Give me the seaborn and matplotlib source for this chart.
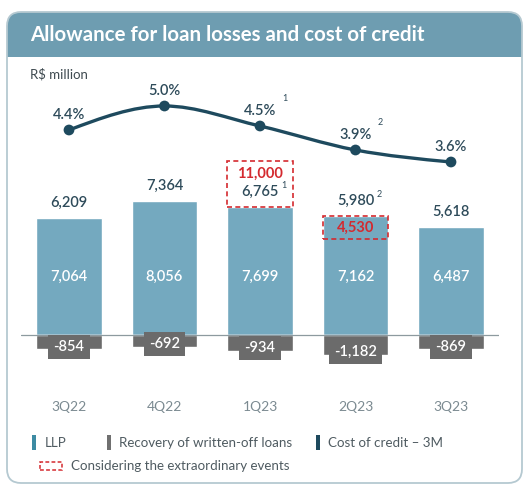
import numpy as np
import pandas as pd
import seaborn as sns
import matplotlib.pyplot as plt
from matplotlib.patches import FancyBboxPatch, Rectangle, PathPatch
from matplotlib.path import Path
from matplotlib.transforms import IdentityTransform

# ---------------- data ----------------
quarters = ["3Q22", "4Q22", "1Q23", "2Q23", "3Q23"]
llp = [7064, 8056, 7699, 7162, 6487]
recovery = [-854, -692, -934, -1182, -869]
net_llp = [6209, 7364, 6765, 5980, 5618]
cost_of_credit = [4.4, 5.0, 4.5, 3.9, 3.6]
net_notes = ["", "", "1", "2", ""]
cost_notes = ["", "", "1", "2", ""]
extra_quarters = ["1Q23", "2Q23"]
extra_values = [11000, 4530]

df = pd.DataFrame({"quarter": quarters, "llp": llp, "recovery": recovery,
                   "net": net_llp, "cost": cost_of_credit})
df["pos"] = np.arange(len(df))

# ---------------- style ----------------
sns.set_theme(style="white")
plt.rcParams["font.family"] = ["Lato", "DejaVu Sans"]

W, H = 530, 488
fig = plt.figure(figsize=(W / 100, H / 100), dpi=100)
fig.patch.set_facecolor("white")

C_LLP = "#74a9bf"
C_REC = "#6b6b6b"
C_LINE = "#1e4a5e"
C_TXT = "#2e4b5a"
C_RED = "#d42a2f"
C_HEAD = "#6e9db1"
C_BORDER = "#b5c9d1"
NUMW = "semibold"

def fx(x):
    return x / W

def fy(y):
    return 1 - y / H

idt = IdentityTransform()
# card background and header (pixel coordinates, origin bottom-left)
header = FancyBboxPatch((7, H - 57), 515, 45, boxstyle="round,pad=0,rounding_size=14",
                        transform=idt, fc=C_HEAD, ec="none", zorder=0)
fig.patches.append(header)
fig.patches.append(Rectangle((7, H - 57), 515, 20, transform=idt, fc=C_HEAD, ec="none", zorder=0))
card = FancyBboxPatch((7, H - 483), 515, 471, boxstyle="round,pad=0,rounding_size=14",
                      transform=idt, fc="none", ec=C_BORDER, lw=1.3, zorder=1)
fig.patches.append(card)

fig.text(fx(30), fy(35), "Allowance for loan losses and cost of credit", color="white",
         fontsize=14.8, fontweight="bold", ha="left", va="center")
fig.text(fx(30), fy(74), "R$ million", color="#3e4a50", fontsize=9.5, ha="left", va="center")

# ---------------- main axes ----------------
ppu = 0.01663  # pixels per R$ million
ax_top, ax_bot, base = 70, 390, 335
ax = fig.add_axes([fx(21.25), fy(ax_bot), 477.5 / W, (ax_bot - ax_top) / H])
ax.set_facecolor("none")

bw = 0.69
sns.barplot(data=df, x="quarter", y="llp", color=C_LLP, saturation=1, width=bw, ax=ax, zorder=1)
sns.barplot(data=df, x="quarter", y="recovery", color=C_REC, saturation=1, width=bw, ax=ax, zorder=1)
ax.set_xlim(-0.5, 4.5)
ax.set_ylim(-(ax_bot - base) / ppu, (base - ax_top) / ppu)
ax.axhline(0, color="#8d9a9f", lw=0.9, zorder=2)

for i, (l, r, n, note) in enumerate(zip(llp, recovery, net_llp, net_notes)):
    ax.text(i, 3500, f"{l:,}", color="white", fontsize=10.5, fontweight=NUMW,
            ha="center", va="center", zorder=4)
    ax.text(i, l + 15 / ppu, f"{n:,}", color=C_TXT, fontsize=10.5, fontweight=NUMW,
            ha="center", va="center", zorder=4)
    if note:
        ax.text(i + 0.25, l + 21 / ppu, note, color=C_TXT, fontsize=6.5, ha="center", va="center", zorder=4)
    ax.text(i, r + 150, f"{r:,}", color="white", fontsize=10.5, fontweight=NUMW,
            ha="center", va="center", zorder=4,
            bbox=dict(boxstyle="square,pad=0.35", fc=C_REC, ec="none"))

# extraordinary events boxes
for q, v in zip(extra_quarters, extra_values):
    i = quarters.index(q)
    top = llp[i]
    if v > top:
        y0, y1 = top, (base - 161) / ppu
        ty = (base - 174) / ppu
    else:
        y0, y1 = (base - 239) / ppu, top
        ty = (base - 228) / ppu
    ax.add_patch(Rectangle((i - bw / 2, y0), bw, y1 - y0, fill=False, ec=C_RED, lw=1.2,
                           ls=(0, (3, 2)), zorder=5))
    ax.text(i, ty, f"{v:,}", color=C_RED, fontsize=10.5, fontweight="bold", ha="center",
            va="center", zorder=6)

ax.set_xticks(range(len(quarters)))
ax.set_xticklabels(quarters)
ax.tick_params(axis="x", length=0, pad=8, labelsize=10, labelcolor="#7b8a91")
ax.set_yticks([])
ax.set_xlabel("")
ax.set_ylabel("")
for s in ax.spines.values():
    s.set_visible(False)

# ---------------- cost of credit line (smooth monotone curve) ----------------
ax2 = ax.twinx()
ax2.set_ylim(4.5 - (ax_bot - 126) / 40, 4.5 + (126 - ax_top) / 40)
xs = df["pos"].to_numpy(dtype=float)
ys = df["cost"].to_numpy(dtype=float)
h = np.diff(xs)
sl = np.diff(ys) / h
t = np.zeros_like(ys)
for k in range(1, len(ys) - 1):
    p = (sl[k - 1] * h[k] + sl[k] * h[k - 1]) / (h[k - 1] + h[k])
    t[k] = (np.sign(sl[k - 1]) + np.sign(sl[k])) * min(abs(sl[k - 1]), abs(sl[k]), 0.5 * abs(p))
t[0] = (3 * sl[0] - t[1]) / 2
t[-1] = (3 * sl[-1] - t[-2]) / 2
verts = [(xs[0], ys[0])]
codes = [Path.MOVETO]
for k in range(len(xs) - 1):
    d = h[k] / 3
    verts += [(xs[k] + d, ys[k] + d * t[k]), (xs[k + 1] - d, ys[k + 1] - d * t[k + 1]), (xs[k + 1], ys[k + 1])]
    codes += [Path.CURVE4] * 3
ax2.add_patch(PathPatch(Path(verts, codes), fill=False, ec=C_LINE, lw=2.4, zorder=3,
                        capstyle="round"))
sns.scatterplot(data=df, x="pos", y="cost", color=C_LINE, s=60, edgecolor="none", ax=ax2, zorder=4)
ax2.set_xlim(-0.5, 4.5)
for i, (c, note) in enumerate(zip(cost_of_credit, cost_notes)):
    ax2.text(i, c + 15 / 40, f"{c:.1f}%", color=C_TXT, fontsize=10.5, fontweight=NUMW,
             ha="center", va="center")
    if note:
        ax2.text(i + 0.26, c + 28 / 40, note, color=C_TXT, fontsize=6.5, ha="center", va="center")
ax2.set_yticks([])
ax2.set_ylabel("")
ax2.set_xlabel("")
for s in ax2.spines.values():
    s.set_visible(False)

# ---------------- legend ----------------
leg_color = "#4f5b61"
items = [(32, "#3d8ba3", 45, "LLP"), (107, "#707070", 119, "Recovery of written-off loans"),
         (316, C_LINE, 328, "Cost of credit \u2013 3M")]
for mx, mc, tx, label in items:
    fig.patches.append(Rectangle((mx, H - 450), 4, 15, transform=idt, fc=mc, ec="none"))
    fig.text(fx(tx), fy(443), label, color=leg_color, fontsize=9.6, ha="left", va="center")
fig.patches.append(Rectangle((40, H - 470), 22, 8, transform=idt, fill=False, ec=C_RED,
                             lw=1.1, ls=(0, (2.5, 1.5))))
fig.text(fx(71), fy(466), "Considering the extraordinary events", color=leg_color, fontsize=9.6,
         ha="left", va="center")

fig.savefig("out.png", dpi=100, facecolor="white")
